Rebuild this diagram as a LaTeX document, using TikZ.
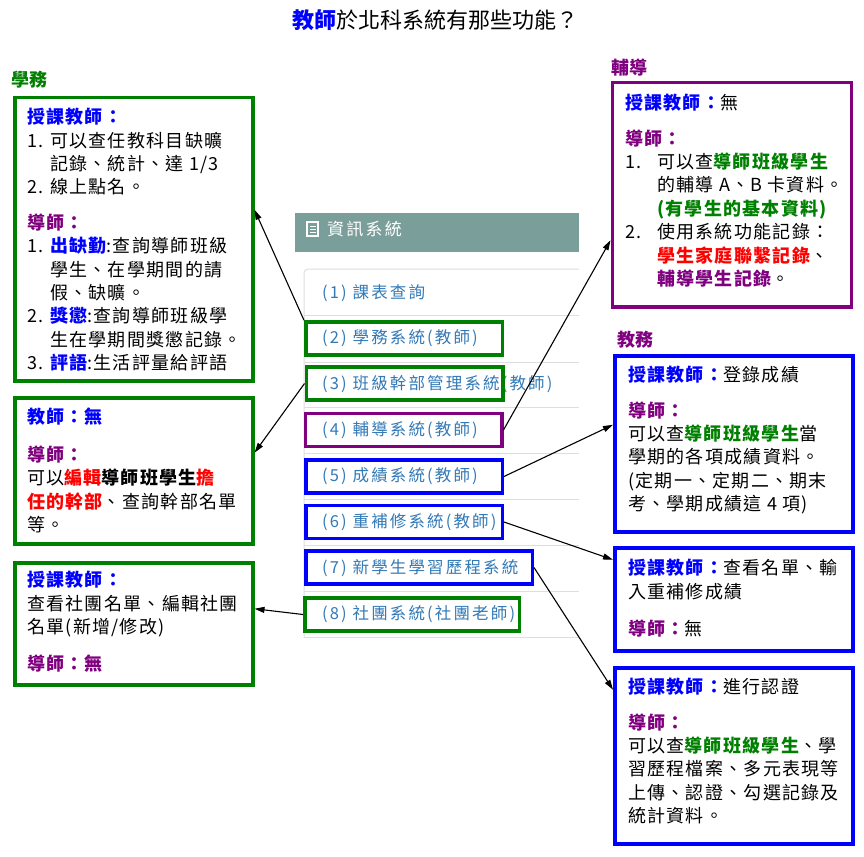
\documentclass[tikz,border=0pt]{standalone}
\usepackage{fontspec}
\setmainfont{Noto Sans CJK TC}
\newfontfamily\boxfont[LetterSpace=7]{Noto Sans CJK TC}
\newfontfamily\listfont[LetterSpace=13]{Noto Sans CJK TC}
\usetikzlibrary{arrows.meta, positioning}

\definecolor{grn}{RGB}{0,128,0}
\definecolor{prp}{RGB}{128,0,128}
\definecolor{blu}{RGB}{0,0,255}
\definecolor{hdr}{RGB}{122,158,154}
\definecolor{lnk}{RGB}{51,122,183}
\definecolor{sep}{RGB}{222,222,222}

\newcommand{\tblue}[1]{\textcolor{blu}{\bfseries #1}}
\newcommand{\tpurple}[1]{\textcolor{prp}{\bfseries #1}}
\newcommand{\tgreen}[1]{\textcolor{grn}{\bfseries #1}}
\newcommand{\tred}[1]{\textcolor{red}{\bfseries #1}}
\newcommand{\nm}[2][23pt]{\makebox[#1][l]{#2}}

\begin{document}
\begin{tikzpicture}[x=1pt, y=-1pt,
    box/.style={draw, line width=3.5pt, anchor=north west, inner sep=0pt},
    frame/.style={draw, line width=3.5pt, inner sep=0pt, minimum width=196.5pt, minimum height=33pt},
    boxtext/.style={anchor=north west, inner sep=0pt, align=left,
      font=\fontsize{18}{23.4}\selectfont\boxfont},
    item/.style={anchor=west, inner sep=0pt, text=lnk, font=\fontsize{16.5}{18}\selectfont\listfont},
    section/.style={inner sep=0pt, font=\fontsize{18}{20}\selectfont\bfseries},
    link/.style={-{Triangle[length=10pt,width=6pt]}, line width=1.1pt}]
  \useasboundingbox[fill=white] (0,0) rectangle (864,856);

  % title
  \node[inner sep=0pt, font=\fontsize{22}{24}\selectfont] (title) at (435,20)
    {\textcolor{blu}{\bfseries 教師}於北科系統有那些功能？};

  % the system menu in the middle
  \fill[hdr] (295,213) rectangle (579,252);
  \draw[white, line width=1.5pt] (307,222) rectangle (318,236);
  \draw[white, line width=1.2pt] (310,226.5) -- (315.5,226.5) (310,229.5) -- (315.5,229.5) (310,232.5) -- (315.5,232.5);
  \node[item, text=white, font=\fontsize{17}{19}\selectfont\listfont] (menu) at (327,229) {資訊系統};

  \draw[sep, line width=1pt] (579,269) -- (308,269) to[out=180, in=90] (304,273) -- (304,637);
  \foreach \y in {315,362,407,453,499,545,591,637}
    \draw[sep, line width=1pt] (304,\y) -- (579,\y);

  \node[item] (itm1) at (322,293) {(1) 課表查詢};
  \node[item] (itm2) at (322,338) {(2) 學務系統(教師)};
  \node[item] (itm3) at (322,384) {(3) 班級幹部管理系統(教師)};
  \node[item] (itm4) at (322,430) {(4) 輔導系統(教師)};
  \node[item] (itm5) at (322,476) {(5) 成績系統(教師)};
  \node[item] (itm6) at (322,522) {(6) 重補修系統(教師)};
  \node[item] (itm7) at (322,568) {(7) 新學生學習歷程系統};
  \node[item] (itm8) at (322,614) {(8) 社團系統(社團老師)};

  % highlight frames round the menu items
  \node[frame, draw=grn] (fr2) at (404,338.5) {};
  \node[frame, draw=grn] (fr3) at (404.5,383.5) {};
  \node[frame, draw=prp] (fr4) at (403.5,430) {};
  \node[frame, draw=blu] (fr5) at (404,476.5) {};
  \node[frame, draw=blu] (fr6) at (404,522) {};
  \node[frame, draw=blu, minimum width=226.5pt] (fr7) at (419,567.5) {};
  \node[frame, draw=grn, minimum width=214.5pt] (fr8) at (412,614.5) {};

  % left column
  \node[section, text=grn] (stuLabel) at (29,80) {學務};
  \node[box, draw=grn, minimum width=238pt, minimum height=283pt] (stuBox) at (13,96) {};
  \node[boxtext] (stuText) at (27,108) {\tblue{授課教師：}\\
    \nm{1.}可以查任教科目缺曠\\
    \hspace*{23pt}記錄、統計、達 1/3\\
    \nm{2.}線上點名。\\[12pt]
    \tpurple{導師：}\\
    \nm{1.}\tblue{出缺勤}:查詢導師班級\\
    \hspace*{23pt}學生、在學期間的請\\
    \hspace*{23pt}假、缺曠。\\
    \nm{2.}\tblue{獎懲}:查詢導師班級學\\
    \hspace*{23pt}生在學期間獎懲記錄。\\
    \nm{3.}\tblue{評語}:生活評量給評語};

  \node[box, draw=grn, minimum width=238pt, minimum height=146pt] (cadreBox) at (13,396) {};
  \node[boxtext] (cadreText) at (27,408) {\tblue{教師：無}\\[14pt]
    \tpurple{導師：}\\
    可以\tred{編輯}{\bfseries 導師班學生}\tred{擔}\\
    \tred{任的幹部}、查詢幹部名單\\
    等。};

  \node[box, draw=grn, minimum width=238pt, minimum height=122pt] (clubBox) at (13,561) {};
  \node[boxtext] (clubText) at (27,571) {\tblue{授課教師：}\\
    查看社團名單、編輯社團\\
    名單(新增/修改)\\[14pt]
    \tpurple{導師：無}};

  % right column
  \node[section, text=prp] (guideLabel) at (629,68) {輔導};
  \node[box, draw=prp, minimum width=239pt, minimum height=224pt] (guideBox) at (610.5,81) {};
  \node[boxtext] (guideText) at (625,94) {\tblue{授課教師：}無\\[12pt]
    \tpurple{導師：}\\
    \nm[32pt]{1.}可以查\tgreen{導師班級學生}\\
    \hspace*{32pt}的輔導 A、B 卡資料。\\
    \hspace*{32pt}\tgreen{(有學生的基本資料)}\\
    \nm[32pt]{2.}使用系統功能記錄：\\
    \hspace*{32pt}\tred{學生家庭聯繫記錄}、\\
    \hspace*{32pt}\tpurple{輔導學生記錄}。};

  \node[section, text=prp] (gradeLabel) at (635,340) {教務};
  \node[box, draw=blu, minimum width=238pt, minimum height=176pt] (gradeBox) at (613,354) {};
  \node[boxtext] (gradeText) at (628,366) {\tblue{授課教師：}登錄成績\\[12pt]
    \tpurple{導師：}\\
    可以查\tgreen{導師班級學生}當\\
    學期的各項成績資料。\\
    (定期一、定期二、期末\\
    考、學期成績這 4 項)};

  \node[box, draw=blu, minimum width=238pt, minimum height=103pt] (retakeBox) at (613,546) {};
  \node[boxtext] (retakeText) at (628,559) {\tblue{授課教師：}查看名單、輸\\
    入重補修成績\\[14pt]
    \tpurple{導師：}無};

  \node[box, draw=blu, minimum width=238pt, minimum height=176pt] (portBox) at (613,666) {};
  \node[boxtext] (portText) at (628,678) {\tblue{授課教師：}進行認證\\[12pt]
    \tpurple{導師：}\\
    可以查\tgreen{導師班級學生}、學\\
    習歷程檔案、多元表現等\\
    上傳、認證、勾選記錄及\\
    統計資料。};

  % connectors
  \draw[link] (fr2.north west) -- ([yshift=29.5pt]stuBox.east);
  \draw[link] (fr3.west) -- ([yshift=18pt]cadreBox.east);
  \draw[link] (fr8.west) -- ([yshift=15pt]clubBox.east);
  \draw[link] (fr4.east) -- ([yshift=-45.5pt]guideBox.west);
  \draw[link] (fr5.east) -- ([yshift=19pt]gradeBox.west);
  \draw[link] (fr6.east) -- ([yshift=39.5pt]retakeBox.west);
  \draw[link] (fr7.east) -- ([yshift=66pt]portBox.west);
\end{tikzpicture}
\end{document}
